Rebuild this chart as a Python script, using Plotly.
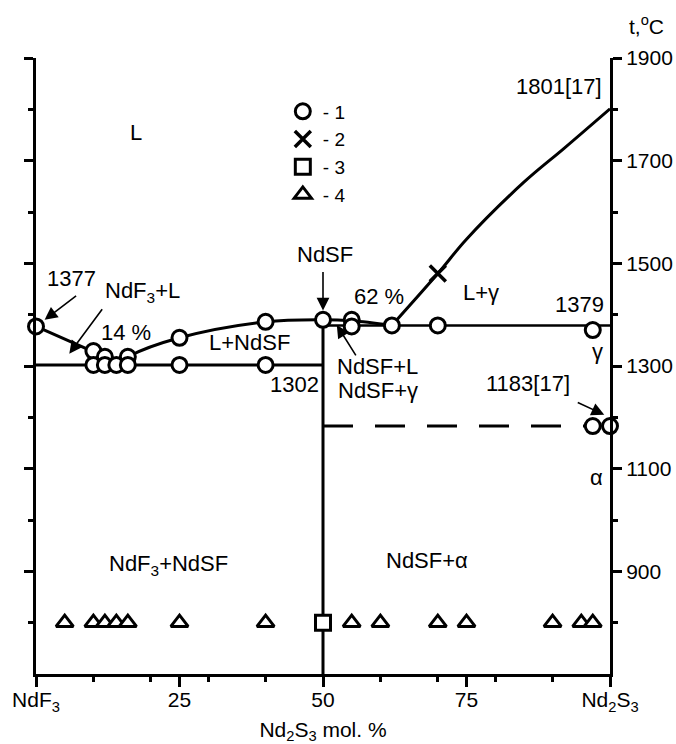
import plotly.graph_objects as go

# ---------------- data ----------------
# series 1: open circles (x = mol.% Nd2S3, t = deg C)
s1_x = [0, 10, 10, 12, 12, 14, 16, 16, 25, 25, 40, 40, 50, 55, 55, 62, 70, 97, 97, 100]
s1_t = [1377, 1329, 1302, 1318, 1302, 1302, 1318, 1302, 1355, 1302, 1386, 1302, 1390, 1390, 1377, 1379, 1379, 1370, 1183, 1183]
# series 2: cross
s2_x = [70]
s2_t = [1480]
# series 3: square
s3_x = [50]
s3_t = [800]
# series 4: triangles
s4_x = [5, 10, 12, 14, 16, 25, 40, 55, 60, 70, 75, 90, 95, 97]
s4_t = [800] * len(s4_x)

# phase boundary lines
liq_left_x = [0, 10, 12, 14]
liq_left_t = [1377, 1329, 1318, 1302]
liq_mid_x = [14, 16, 25, 40, 50, 55, 62]
liq_mid_t = [1302, 1318, 1355, 1386, 1390, 1388, 1379]
liq_right_x = [62, 70, 75, 85, 92, 100]
liq_right_t = [1379, 1480, 1547, 1658, 1724, 1801]
eut_x = [0, 50]
eut_t = [1302, 1302]
vert_x = [50, 50]
vert_t = [1390, 700]
perit_x = [50, 100]
perit_t = [1379, 1379]
trans_x = [50, 97]
trans_t = [1183, 1183]

x_tickvals = [0, 25, 50, 75, 100]
x_ticktext = ["NdF<sub>3</sub>", "25", "50", "75", "Nd<sub>2</sub>S<sub>3</sub>"]
x_minor = [10, 20, 30, 40, 60, 70, 80, 90]
y_tickvals = [900, 1100, 1300, 1500, 1700, 1900]
y_minor = [800, 1000, 1200, 1400, 1600, 1800]

FONT = "Liberation Sans, Arial, sans-serif"
FS = 22      # annotation text
FT = 21      # tick labels

fig = go.Figure()

def line(x, t, width=3, dash="solid", shape="linear"):
    fig.add_trace(go.Scatter(x=x, y=t, mode="lines", showlegend=False, hoverinfo="skip",
                             line=dict(color="black", width=width, dash=dash, shape=shape, smoothing=1.0),
                             cliponaxis=False))

line(liq_left_x, liq_left_t)
line(liq_mid_x, liq_mid_t, shape="spline")
line(liq_right_x, liq_right_t, shape="spline")
line(eut_x, eut_t)
line(vert_x, vert_t)
line(perit_x, perit_t, width=2.5)
line(trans_x, trans_t, dash="30px,22px")

mk_line = dict(color="black", width=3)
fig.add_trace(go.Scatter(x=s1_x, y=s1_t, mode="markers", name="- 1", cliponaxis=False,
                         marker=dict(symbol="circle", size=15, color="white", line=mk_line)))
fig.add_trace(go.Scatter(x=s2_x, y=s2_t, mode="markers", name="- 2", cliponaxis=False,
                         marker=dict(symbol="x-thin", size=16, color="black", line=dict(color="black", width=3.5))))
fig.add_trace(go.Scatter(x=s3_x, y=s3_t, mode="markers", name="- 3", cliponaxis=False,
                         marker=dict(symbol="square", size=15, color="white", line=mk_line)))
fig.add_trace(go.Scatter(x=s4_x, y=s4_t, mode="markers", name="- 4", cliponaxis=False,
                         marker=dict(symbol="triangle-up", size=15, color="white", line=mk_line)))

texts = [
    ("L", 17.5, 1754),
    ("1377", 6.2, 1471),
    ("NdF<sub>3</sub>+L", 18.5, 1445),
    ("14 %", 15.6, 1365),
    ("L+NdSF", 37.2, 1346),
    ("1302", 45.0, 1264),
    ("NdSF", 50.3, 1517),
    ("62 %", 59.8, 1436),
    ("L+γ", 77.6, 1443),
    ("1379", 94.7, 1420),
    ("γ", 97.8, 1328),
    ("NdSF+L", 59.5, 1299),
    ("NdSF+γ", 59.5, 1253),
    ("1183[17]", 85.8, 1265),
    ("α", 97.6, 1083),
    ("1801[17]", 91.2, 1845),
    ("NdF<sub>3</sub>+NdSF", 23.1, 912),
    ("NdSF+α", 68.1, 921),
]
for txt, x, t in texts:
    fig.add_annotation(x=x, y=t, text=txt, showarrow=False, xanchor="center", yanchor="middle",
                       font=dict(family=FONT, size=FS, color="black"))

arrows = [  # tip x, tip t, tail offset ax, ay (px)
    (1.5, 1390, 33, -25),
    (5.8, 1324, 34, -46),
    (50.0, 1408, 0, -40),
    (52.4, 1380, 20, 32),
    (99.0, 1205, -28, -13),
]
for x, t, ax, ay in arrows:
    fig.add_annotation(x=x, y=t, text="", showarrow=True, ax=ax, ay=ay,
                       arrowhead=2, arrowsize=1.6, arrowwidth=1.6, arrowcolor="black")

fig.add_annotation(xref="paper", yref="paper", x=1.064, y=1.054, xanchor="center", yanchor="middle",
                   text="t,<sup>o</sup>C", showarrow=False, font=dict(family=FONT, size=FT, color="black"))

fig.update_layout(
    width=676, height=744,
    margin=dict(l=36, r=66, t=58, b=70),
    paper_bgcolor="white", plot_bgcolor="white",
    font=dict(family=FONT, size=FT, color="black"),
    legend=dict(x=0.430, y=0.944, xanchor="left", yanchor="top", bgcolor="rgba(0,0,0,0)",
                font=dict(family=FONT, size=19), tracegroupgap=0, itemwidth=30),
    xaxis=dict(range=[0, 100], showgrid=False, zeroline=False, showline=True, linecolor="black", linewidth=3,
               automargin=False,
               ticks="outside", ticklen=10, tickwidth=2.5, tickcolor="black", ticklabelstandoff=-5,
               tickmode="array", tickvals=x_tickvals, ticktext=x_ticktext,
               minor=dict(tickmode="array", tickvals=x_minor, ticks="outside", ticklen=5, tickwidth=2.5, tickcolor="black"),
               title=dict(text="Nd<sub>2</sub>S<sub>3</sub> mol. %", font=dict(size=FT), standoff=18),
               tickfont=dict(size=FT)),
    yaxis=dict(range=[700, 1900], side="right", showgrid=False, zeroline=False, showline=True, linecolor="black",
               automargin=False,
               linewidth=3, mirror="allticks", ticks="outside", ticklen=9, tickwidth=2.5, tickcolor="black",
               tickmode="array", tickvals=y_tickvals,
               minor=dict(tickmode="array", tickvals=y_minor, ticks="outside", ticklen=5, tickwidth=2.5, tickcolor="black"),
               tickfont=dict(size=FT)),
)

fig.write_html("out.html", config={"displayModeBar": False})
